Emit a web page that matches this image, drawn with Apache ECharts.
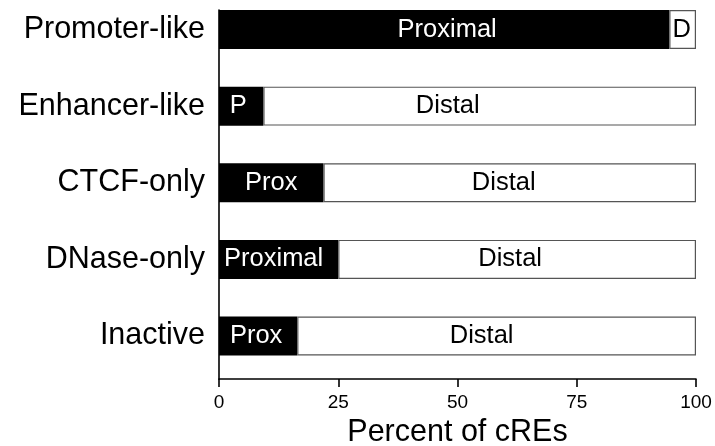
<!DOCTYPE html>
<html>
<head>
<meta charset="utf-8">
<script src="https://cdn.jsdelivr.net/npm/echarts@6/dist/echarts.min.js"></script>
<style>
  html, body { margin: 0; padding: 0; background: #fff; }
  #chart { width: 715px; height: 446px; }
</style>
</head>
<body>
<div id="chart"></div>
<script>
// cRE groups, top to bottom
const categories = ['Promoter-like', 'Enhancer-like', 'CTCF-only', 'DNase-only', 'Inactive'];
// percent of cREs that are proximal / distal to a TSS
const proximal = [94.4, 9.3, 21.9, 25.0, 16.4];
const distal = [5.6, 90.7, 78.1, 75.0, 83.6];
// text written inside each segment
const proximalText = ['Proximal', 'P', 'Prox', 'Proximal', 'Prox'];
const distalText = ['D', 'Distal', 'Distal', 'Distal', 'Distal'];
// x axis
const xTicks = [0, 25, 50, 75, 100];
const xTitle = 'Percent of cREs';

// small horizontal nudges for the in-bar labels
const proximalShift = [3, -3, 0, -5, -2];
const distalShift = [-1, -32, -6, -7, -15];

const FONT = "'Liberation Sans', Arial, Helvetica, sans-serif";
const LEFT = 219, RIGHT = 19;

const chart = echarts.init(document.getElementById('chart'), null, { renderer: 'canvas' });

const option = {
  animation: false,
  backgroundColor: '#ffffff',
  textStyle: { fontFamily: FONT },
  grid: [
    // bar rows: first category on the top edge, last on the bottom edge
    { left: LEFT, right: RIGHT, top: 29.5, height: 306.5, containLabel: false, outerBoundsMode: 'none' },
    // axes frame
    { left: LEFT, right: RIGHT, top: 10, bottom: 67, containLabel: false, outerBoundsMode: 'none' }
  ],
  xAxis: [
    {
      gridIndex: 0, type: 'value', min: 0, max: 100,
      show: false
    },
    {
      gridIndex: 1, type: 'value', min: xTicks[0], max: xTicks[xTicks.length - 1], interval: 25,
      axisLine: { show: true, lineStyle: { color: '#000', width: 1.6 } },
      axisTick: { show: true, length: 8, lineStyle: { color: '#000', width: 1.6 } },
      axisLabel: { color: '#000', fontSize: 19, fontFamily: FONT, margin: 14 },
      splitLine: { show: false },
      name: xTitle,
      nameLocation: 'middle',
      nameGap: 36,
      nameTextStyle: { color: '#000', fontSize: 30.5, fontFamily: FONT }
    }
  ],
  yAxis: [
    {
      gridIndex: 0, type: 'category', data: categories, inverse: true,
      boundaryGap: false,
      axisLine: { show: false },
      axisTick: { show: false },
      axisLabel: { color: '#000', fontSize: 30.5, fontFamily: FONT, margin: 14 },
      splitLine: { show: false }
    },
    {
      gridIndex: 1, type: 'value', min: 0, max: 1,
      axisLine: { show: true, lineStyle: { color: '#000', width: 1.6 } },
      axisTick: { show: false },
      axisLabel: { show: false },
      splitLine: { show: false }
    }
  ],
  series: [
    {
      name: 'Proximal',
      type: 'bar',
      stack: 'tss',
      clip: false,
      xAxisIndex: 0, yAxisIndex: 0,
      barWidth: 39,
      data: proximal.map((v, i) => ({
        value: v,
        label: { offset: [proximalShift[i], 0], formatter: proximalText[i] }
      })),
      itemStyle: { color: '#000', borderColor: '#000', borderWidth: 0 },
      label: {
        show: true, position: 'inside', color: '#fff',
        fontSize: 25.5, fontFamily: FONT
      }
    },
    {
      name: 'Distal',
      type: 'bar',
      stack: 'tss',
      clip: false,
      xAxisIndex: 0, yAxisIndex: 0,
      barWidth: 39,
      data: distal.map((v, i) => ({
        value: v,
        label: { offset: [distalShift[i], 0], formatter: distalText[i] }
      })),
      itemStyle: { color: '#fff', borderColor: '#555', borderWidth: 1.2 },
      label: {
        show: true, position: 'inside', color: '#000',
        fontSize: 25.5, fontFamily: FONT
      }
    }
  ]
};

chart.setOption(option);
</script>
</body>
</html>
